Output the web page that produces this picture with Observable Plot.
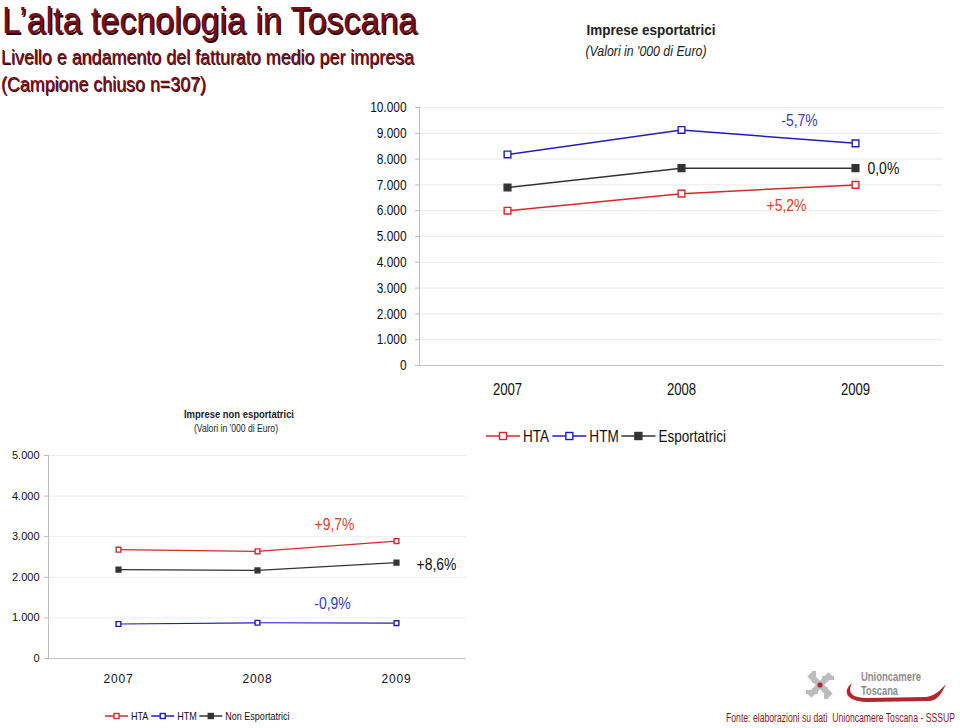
<!DOCTYPE html>
<html>
<head>
<meta charset="utf-8">
<script src="https://cdn.jsdelivr.net/npm/d3@7"></script>
<script src="https://cdn.jsdelivr.net/npm/@observablehq/plot@0.6"></script>
<style>
  html, body { margin: 0; padding: 0; background: #fff; }
  #page { position: relative; width: 960px; height: 728px; overflow: hidden; font-family: "Liberation Sans", Arial, sans-serif; }
  .abs { position: absolute; }
  #deco text { font-family: "Liberation Sans", Arial, sans-serif; }
  #source { position: absolute; right: 5px; top: 711px; font-size: 12px; line-height: 14px; color: #8b1a1a; white-space: nowrap; transform: scaleX(0.72); transform-origin: right center; }
</style>
</head>
<body>
<div id="page">
  <svg class="abs" style="left:0;top:0" width="960" height="728" id="deco">
    <!-- main title with shadow -->
    <text x="3.5" y="34.5" font-size="37" fill="#2a0508" textLength="415" lengthAdjust="spacingAndGlyphs">L’alta tecnologia in Toscana</text>
    <text x="2" y="33" font-size="37" fill="#7b0d1a" textLength="415" lengthAdjust="spacingAndGlyphs">L’alta tecnologia in Toscana</text>
    <text x="1.8" y="64.8" font-size="20.5" fill="#3a0508" textLength="413" lengthAdjust="spacingAndGlyphs">Livello e andamento del fatturato medio per impresa</text>
    <text x="1" y="64" font-size="20.5" fill="#7b0d1a" textLength="413" lengthAdjust="spacingAndGlyphs">Livello e andamento del fatturato medio per impresa</text>
    <text x="1.8" y="91.8" font-size="20.5" fill="#3a0508" textLength="205" lengthAdjust="spacingAndGlyphs">(Campione chiuso n=307)</text>
    <text x="1" y="91" font-size="20.5" fill="#7b0d1a" textLength="205" lengthAdjust="spacingAndGlyphs">(Campione chiuso n=307)</text>

    <!-- chart titles -->
    <text x="651" y="35" font-size="15" font-weight="bold" fill="#222" text-anchor="middle" textLength="129" lengthAdjust="spacingAndGlyphs">Imprese esportatrici</text>
    <text x="646" y="56" font-size="15" font-style="italic" fill="#222" text-anchor="middle" textLength="121" lengthAdjust="spacingAndGlyphs">(Valori in '000 di Euro)</text>
    <text x="239" y="418" font-size="11.5" font-weight="bold" fill="#222" text-anchor="middle" textLength="110" lengthAdjust="spacingAndGlyphs">Imprese non esportatrici</text>
    <text x="236" y="432" font-size="11" fill="#222" text-anchor="middle" textLength="84" lengthAdjust="spacingAndGlyphs">(Valori in '000 di Euro)</text>

    <!-- logo (decorative) -->
    <g transform="translate(820,685)" fill="#bcbcbc">
      <rect x="-3" y="-15" width="6" height="30" transform="rotate(45)"/>
      <rect x="-3" y="-15" width="6" height="30" transform="rotate(-45)"/>
      <rect x="-8" y="-14" width="4" height="12"/>
      <rect x="4" y="2" width="4" height="12"/>
      <rect x="2" y="-9" width="12" height="4"/>
      <rect x="-14" y="5" width="12" height="4"/>
      <circle r="2.6" fill="#b0282e"/>
    </g>
    <text x="861" y="681" font-size="12" font-weight="bold" fill="#8c8c8c" textLength="60" lengthAdjust="spacingAndGlyphs">Unioncamere</text>
    <text x="861" y="695" font-size="12" font-weight="bold" fill="#8c8c8c" textLength="37" lengthAdjust="spacingAndGlyphs">Toscana</text>
    <path d="M852,683 C842,691 846,701 866,702 L930,701 C938,700 942,693 946,684 C940,691 934,696 926,697 L868,698 C852,698 847,693 852,683 Z" fill="#b0282e"/>
  </svg>
  <div id="source">Fonte: elaborazioni su dati&nbsp; Unioncamere Toscana - SSSUP</div>
  <div id="topChart" class="abs" style="left:340px;top:95px"></div>
  <div id="botChart" class="abs" style="left:0px;top:445px"></div>
  <svg id="topLegend" class="abs" style="left:486px;top:426px" width="300" height="20"></svg>
  <svg id="botLegend" class="abs" style="left:105px;top:709px" width="220" height="14"></svg>
</div>
<script>
// ---------- data ----------
const years = ["2007", "2008", "2009"];

const topSeries = ["HTA", "HTM", "Esportatrici"];
const topHTA = [6000, 6660, 7000];
const topHTM = [8180, 9130, 8610];
const topExp = [6900, 7650, 7650];
const topChanges = ["+5,2%", "-5,7%", "0,0%"];
const topTicks = [0, 1000, 2000, 3000, 4000, 5000, 6000, 7000, 8000, 9000, 10000];

const botSeries = ["HTA", "HTM", "Non Esportatrici"];
const botHTA = [2680, 2640, 2890];
const botHTM = [850, 880, 872];
const botNon = [2190, 2170, 2360];
const botChanges = ["+9,7%", "-0,9%", "+8,6%"];
const botTicks = [0, 1000, 2000, 3000, 4000, 5000];

// ---------- styling ----------
const FONT = "'Liberation Sans', Arial, sans-serif";
const NARROW = 0.82;
const lineColors = ["#d42a2a", "#1f1fb4", "#333333"];
const labelColors = ["#d9431f", "#3b3bc0", "#111111"];
const filled = [false, false, true];
const fmt = d => d3.format(",")(d).replace(/,/g, ".");

function rows(seriesNames, arrays) {
  const out = [];
  arrays.forEach((arr, s) => arr.forEach((v, i) => out.push({year: years[i], value: v, series: seriesNames[s], idx: s})));
  return out;
}

const topRows = rows(topSeries, [topHTA, topHTM, topExp]);
const botRows = rows(botSeries, [botHTA, botHTM, botNon]);

function lastOf(rs, s) { return rs.filter(d => d.idx === s && d.year === years[years.length - 1]); }

// squeeze text to imitate a narrow typeface
function narrow(texts) {
  texts.forEach(t => {
    const len = t.getComputedTextLength();
    if (len > 0) {
      t.setAttribute("textLength", (len * NARROW).toFixed(2));
      t.setAttribute("lengthAdjust", "spacingAndGlyphs");
    }
  });
}

function chart(rs, changes, ticks, cfg) {
  const colorScale = d => lineColors[d.idx];
  return Plot.plot({
    width: cfg.width, height: cfg.height,
    marginLeft: cfg.ml, marginRight: cfg.mr, marginTop: cfg.mt, marginBottom: cfg.mb,
    style: {fontFamily: FONT, fontSize: cfg.tickFont + "px", color: "#111", background: "transparent"},
    x: {type: "point", domain: years, padding: 0.5, label: null},
    y: {domain: [0, ticks[ticks.length - 1]], label: null},
    marks: [
      Plot.gridY(ticks.slice(1), {stroke: cfg.grid, strokeOpacity: 1}),
      Plot.ruleY([0], {stroke: "#c4c4c4"}),
      Plot.frame({anchor: "left", stroke: "#bdbdbd"}),
      Plot.axisY(ticks, {tickFormat: fmt, tickSize: 4, tickPadding: cfg.tickPad, stroke: "#bdbdbd", fill: "#111", fontSize: cfg.tickFont}),
      Plot.axisX({tickSize: 0, tickPadding: cfg.xPad, fontSize: cfg.xFont, fill: "#111"}),
      Plot.lineY(rs, {x: "year", y: "value", z: "series", stroke: colorScale, strokeWidth: cfg.lw}),
      Plot.dot(rs, {x: "year", y: "value", symbol: "square", r: cfg.r, stroke: colorScale, strokeWidth: 1.4,
                    fill: d => filled[d.idx] ? lineColors[d.idx] : "white"}),
      ...changes.map((c, s) => Plot.text(lastOf(rs, s), {
        x: "year", y: "value", text: () => c, fill: labelColors[s],
        fontSize: cfg.labFont, dx: cfg.lab[s][0], dy: cfg.lab[s][1], textAnchor: cfg.lab[s][2]
      }))
    ]
  });
}

const topEl = chart(topRows, topChanges, topTicks, {
  width: 610, height: 310, ml: 79, mr: 7, mt: 12, mb: 40,
  tickFont: 14.5, tickPad: 9, xPad: 18, xFont: 16,
  grid: "#e9e9e9", lw: 1.5, r: 3.8, labFont: 17,
  lab: [[-69, 21, "middle"], [-56, -23, "middle"], [12, 0, "start"]]
});
document.getElementById("topChart").append(topEl);
narrow(topEl.querySelectorAll("text"));

const botEl = chart(botRows, botChanges, botTicks, {
  width: 480, height: 248, ml: 48, mr: 14, mt: 10, mb: 35,
  tickFont: 11, tickPad: 5, xPad: 16, xFont: 12, 
  grid: "#ececec", lw: 1.2, r: 2.7, labFont: 17,
  lab: [[-62, -17, "middle"], [-64, -20, "middle"], [20, 2, "start"]]
});
document.getElementById("botChart").append(botEl);
narrow([...botEl.querySelectorAll("text")].filter(t => /%/.test(t.textContent)));
botEl.querySelectorAll("[aria-label='x-axis tick label'] text").forEach(t => t.setAttribute("letter-spacing", "0.8"));

// ---------- legends ----------
function legend(svg, names, lineW, mk, gapText, gapItem, fontSize) {
  const ns = "http://www.w3.org/2000/svg";
  const h = +svg.getAttribute("height");
  let x = 0;
  names.forEach((n, s) => {
    const ln = document.createElementNS(ns, "line");
    ln.setAttribute("x1", x); ln.setAttribute("x2", x + lineW);
    ln.setAttribute("y1", h / 2); ln.setAttribute("y2", h / 2);
    ln.setAttribute("stroke", lineColors[s]); ln.setAttribute("stroke-width", 1.5);
    const r = document.createElementNS(ns, "rect");
    r.setAttribute("x", x + lineW / 2 - mk / 2); r.setAttribute("y", h / 2 - mk / 2);
    r.setAttribute("width", mk); r.setAttribute("height", mk);
    r.setAttribute("stroke", lineColors[s]); r.setAttribute("stroke-width", 1.4);
    r.setAttribute("fill", filled[s] ? lineColors[s] : "white");
    const t = document.createElementNS(ns, "text");
    t.textContent = n;
    t.setAttribute("x", x + lineW + gapText);
    t.setAttribute("y", h / 2);
    t.setAttribute("dy", "0.35em");
    t.setAttribute("font-size", fontSize);
    t.setAttribute("font-family", FONT);
    t.setAttribute("fill", "#111");
    svg.append(ln, r, t);
    narrow([t]);
    x += lineW + gapText + t.getComputedTextLength() * NARROW + gapItem;
  });
}
legend(document.getElementById("topLegend"), topSeries, 34, 7, 3, 8, 16.5);
legend(document.getElementById("botLegend"), botSeries, 23, 5, 3, 6, 11);
</script>
</body>
</html>
